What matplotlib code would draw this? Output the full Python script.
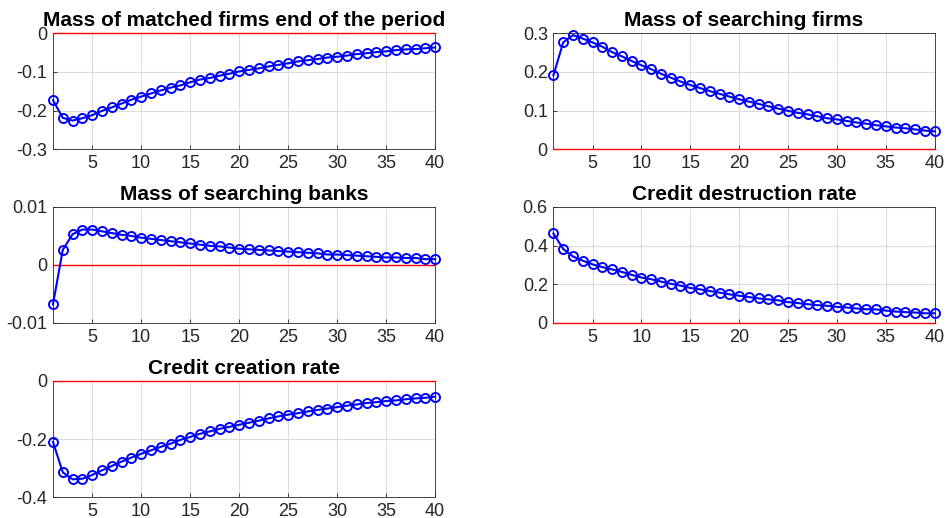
import numpy as np
import matplotlib
matplotlib.use("Agg")
import matplotlib.pyplot as plt

plt.rcParams['font.family'] = ['Liberation Sans', 'DejaVu Sans']
plt.rcParams['axes.unicode_minus'] = False

periods = np.arange(1, 41)

matched_firms = [-0.173, -0.219, -0.226, -0.220, -0.212, -0.201, -0.192, -0.182, -0.172, -0.164,
                 -0.156, -0.148, -0.141, -0.135, -0.127, -0.120, -0.116, -0.110, -0.105, -0.099,
                 -0.095, -0.091, -0.086, -0.082, -0.078, -0.073, -0.070, -0.067, -0.063, -0.061,
                 -0.058, -0.054, -0.052, -0.049, -0.047, -0.044, -0.042, -0.041, -0.039, -0.037]

searching_firms = [0.191, 0.276, 0.295, 0.286, 0.276, 0.265, 0.251, 0.240, 0.228, 0.217,
                   0.207, 0.195, 0.185, 0.175, 0.166, 0.158, 0.150, 0.143, 0.136, 0.129,
                   0.123, 0.117, 0.111, 0.105, 0.099, 0.094, 0.090, 0.085, 0.080, 0.077,
                   0.073, 0.069, 0.066, 0.062, 0.059, 0.056, 0.054, 0.051, 0.048, 0.046]

searching_banks = [-0.0068, 0.0026, 0.0053, 0.0061, 0.0061, 0.0058, 0.0055, 0.0052, 0.0050, 0.0047,
                   0.0045, 0.0043, 0.0041, 0.0039, 0.0037, 0.0035, 0.0033, 0.0032, 0.0030, 0.0028,
                   0.0027, 0.0026, 0.0025, 0.0024, 0.0023, 0.0022, 0.0021, 0.0020, 0.0018, 0.0018,
                   0.0017, 0.0016, 0.0015, 0.0014, 0.0013, 0.0013, 0.0012, 0.0012, 0.0010, 0.0010]

credit_destruction = [0.463, 0.383, 0.344, 0.322, 0.303, 0.289, 0.277, 0.264, 0.249, 0.235,
                      0.226, 0.214, 0.203, 0.193, 0.181, 0.174, 0.165, 0.157, 0.148, 0.141,
                      0.134, 0.127, 0.122, 0.117, 0.108, 0.103, 0.097, 0.092, 0.089, 0.083,
                      0.080, 0.075, 0.071, 0.070, 0.064, 0.059, 0.056, 0.054, 0.050, 0.050]

credit_creation = [-0.210, -0.315, -0.339, -0.337, -0.324, -0.308, -0.293, -0.278, -0.264, -0.251,
                   -0.239, -0.227, -0.216, -0.203, -0.193, -0.182, -0.174, -0.165, -0.158, -0.151,
                   -0.144, -0.137, -0.129, -0.122, -0.116, -0.111, -0.105, -0.100, -0.095, -0.090,
                   -0.085, -0.081, -0.076, -0.073, -0.069, -0.067, -0.063, -0.060, -0.058, -0.054]

titles = ["Mass of matched firms end of the period", "Mass of searching firms",
          "Mass of searching banks", "Credit destruction rate", "Credit creation rate"]
series = [matched_firms, searching_firms, searching_banks, credit_destruction, credit_creation]
ylims = [(-0.3, 0), (0, 0.3), (-0.01, 0.01), (0, 0.6), (-0.4, 0)]
yticks = [[-0.3, -0.2, -0.1, 0], [0, 0.1, 0.2, 0.3], [-0.01, 0, 0.01],
          [0, 0.2, 0.4, 0.6], [-0.4, -0.2, 0]]
yticklabels = [["-0.3", "-0.2", "-0.1", "0"], ["0", "0.1", "0.2", "0.3"], ["-0.01", "0", "0.01"],
               ["0", "0.2", "0.4", "0.6"], ["-0.4", "-0.2", "0"]]

# axes boxes [left, bottom, width, height]
positions = [[0.056, 0.712, 0.404, 0.224], [0.585, 0.712, 0.403, 0.224],
             [0.056, 0.3765, 0.404, 0.224], [0.585, 0.3765, 0.403, 0.224],
             [0.056, 0.0405, 0.404, 0.224]]

fig = plt.figure(figsize=(9.46, 5.18), dpi=100)
dark = '#262626'
for i in range(5):
    ax = fig.add_axes(positions[i])
    # zero line drawn over the spine so it stays red on the box edge
    ax.plot(periods, np.zeros(len(periods)), color='red', linewidth=1.0, zorder=2.6, clip_on=False)
    ax.plot(periods, series[i], 'o-', color='blue', markerfacecolor='none',
            markersize=6.5, markeredgewidth=1.4, linewidth=1.5, zorder=3, clip_on=False)
    ax.set_xlim(1, 40)
    ax.set_ylim(*ylims[i])
    ax.set_xticks([5, 10, 15, 20, 25, 30, 35, 40])
    ax.set_yticks(yticks[i])
    ax.set_yticklabels(yticklabels[i])
    ax.grid(True, color='#dcdcdc', linewidth=0.8)
    ax.set_axisbelow(True)
    ax.tick_params(direction='in', labelsize=13, colors=dark, length=3, width=0.6, pad=4)
    for s in ax.spines.values():
        s.set_color(dark)
        s.set_linewidth(0.6)
    ax.set_title(titles[i], fontsize=15, fontweight='bold', pad=5)

fig.savefig("out.png", dpi=100)
